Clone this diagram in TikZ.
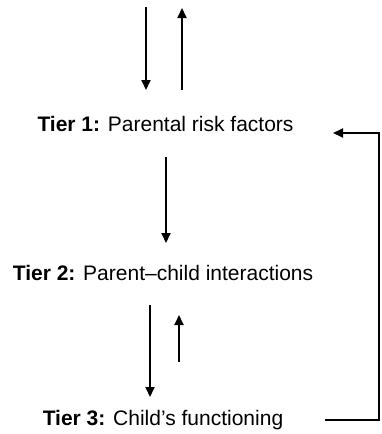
\documentclass[tikz,border=0pt]{standalone}
\usepackage{fontspec}
\setmainfont{Liberation Sans}
\usetikzlibrary{arrows.meta}
\begin{document}
\begin{tikzpicture}[x=1pt,y=-1pt,
  tier/.style={anchor=base,inner sep=0pt,font=\fontsize{21}{25}\selectfont},
  arr/.style={line width=2pt,-{Triangle[length=10pt,width=9pt]}},
  link/.style={line width=2pt}]
\useasboundingbox (0,0) rectangle (381,434);

% tiers
\node[tier] (t1) at (165.5,131.5) {\textbf{Tier 1:} Parental risk factors};
\node[tier] (t2) at (163,280) {\textbf{Tier 2:} Parent–child interactions};
\node[tier] (t3) at (163,425) {\textbf{Tier 3:} Child’s functioning};

% arrow ends
\coordinate (inA) at (146,7);
\coordinate (inB) at (146,90);
\coordinate (outA) at (182,90);
\coordinate (outB) at (182,8);
\coordinate (m12a) at (166,157);
\coordinate (m12b) at (166,243);
\coordinate (d23a) at (150,305);
\coordinate (d23b) at (150,397);
\coordinate (u32a) at (179,362);
\coordinate (u32b) at (179,315);
\coordinate (fbStart) at (325,420);
\coordinate (fbCorner) at (379,420);
\coordinate (fbEnd) at (333,133);

% vertical arrows
\draw[arr] (inA) -- (inB);
\draw[arr] (outA) -- (outB);
\draw[arr] (m12a) -- (m12b);
\draw[arr] (d23a) -- (d23b);
\draw[arr] (u32a) -- (u32b);

% feedback loop from tier 3 back to tier 1
\draw[arr] (fbStart) -- (fbCorner) |- (fbEnd);
\end{tikzpicture}
\end{document}
